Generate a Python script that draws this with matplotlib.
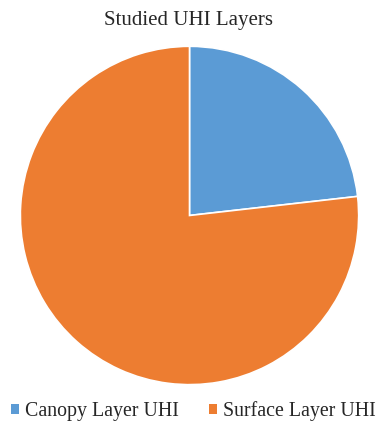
import matplotlib.pyplot as plt
from matplotlib.patches import Patch

labels = ["Canopy Layer UHI", "Surface Layer UHI"]
values = [23.2, 76.8]
colors = ["#5B9BD5", "#ED7D31"]

plt.rcParams['font.family'] = ['Liberation Serif', 'DejaVu Serif']

fig = plt.figure(figsize=(3.78, 4.24), dpi=100)
ax = fig.add_axes([0.0516, 0.0908, 0.8995, 0.802])
ax.pie(values, colors=colors, startangle=90, counterclock=False,
       wedgeprops=dict(edgecolor='white', linewidth=1.2))
ax.set_xlim(-1.005, 1.005)
ax.set_ylim(-1.005, 1.005)
ax.set_aspect('equal')

fig.text(0.5, 0.952, "Studied UHI Layers", ha='center', va='center', fontsize=15, color='#262626')

handles = [Patch(facecolor=c, edgecolor='none') for c in colors]
fig.legend(handles, labels, loc='center', bbox_to_anchor=(0.512, 0.03), ncol=2, frameon=False,
           fontsize=14.3, handlelength=0.4, handleheight=0.4, handletextpad=0.3, columnspacing=1.5,
           labelcolor='#262626')

fig.savefig("out.png", dpi=100)
